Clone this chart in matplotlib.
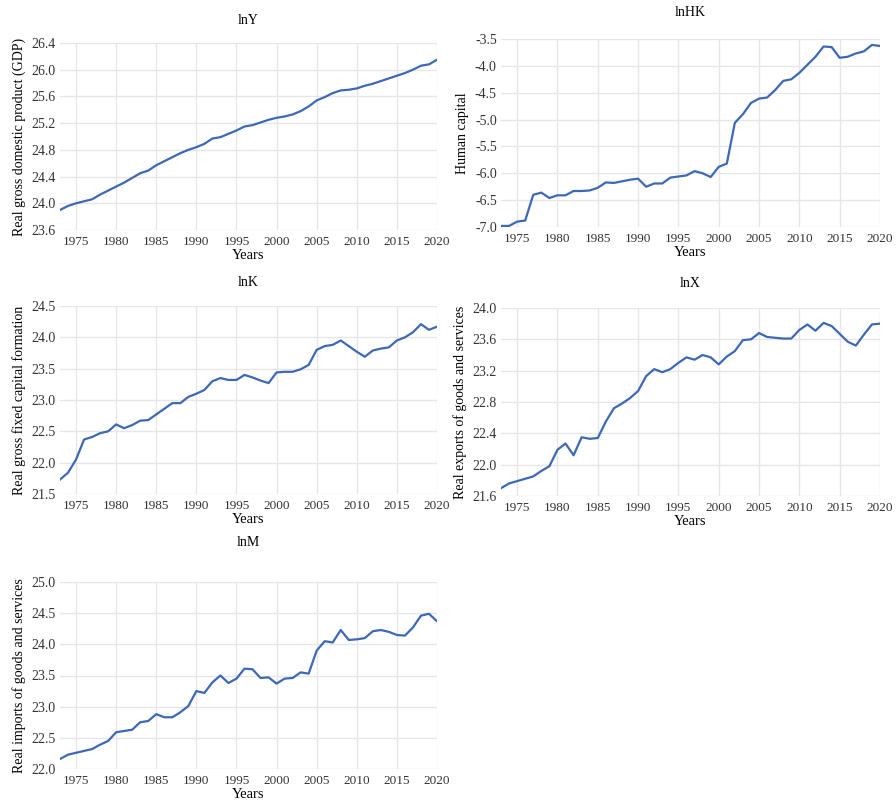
import matplotlib.pyplot as plt
import numpy as np

plt.rcParams['font.family'] = ['Liberation Serif', 'DejaVu Serif']
LINE_COLOR = '#3d68b5'
W, H = 896, 802

years = list(range(1973, 2021))

ln_y = [23.90, 23.96, 24.00, 24.03, 24.06, 24.13, 24.19, 24.25, 24.31, 24.38,
        24.45, 24.49, 24.57, 24.63, 24.69, 24.75, 24.80, 24.84, 24.89, 24.97,
        24.99, 25.04, 25.09, 25.15, 25.17, 25.21, 25.25, 25.28, 25.30, 25.33,
        25.38, 25.45, 25.54, 25.59, 25.65, 25.69, 25.70, 25.72, 25.76, 25.79,
        25.83, 25.87, 25.91, 25.95, 26.00, 26.06, 26.08, 26.15]

ln_hk = [-6.98, -6.98, -6.90, -6.88, -6.40, -6.36, -6.46, -6.41, -6.41, -6.33,
         -6.33, -6.32, -6.27, -6.17, -6.18, -6.15, -6.12, -6.10, -6.25, -6.19,
         -6.19, -6.08, -6.06, -6.04, -5.96, -6.00, -6.07, -5.88, -5.82, -5.06,
         -4.90, -4.69, -4.61, -4.59, -4.45, -4.28, -4.25, -4.13, -3.98, -3.83,
         -3.64, -3.65, -3.85, -3.83, -3.77, -3.73, -3.61, -3.63]

ln_k = [21.73, 21.84, 22.05, 22.37, 22.41, 22.47, 22.50, 22.61, 22.55, 22.60,
        22.67, 22.68, 22.77, 22.86, 22.95, 22.95, 23.05, 23.10, 23.16, 23.30,
        23.35, 23.32, 23.32, 23.40, 23.36, 23.31, 23.27, 23.44, 23.45, 23.45,
        23.49, 23.56, 23.80, 23.86, 23.88, 23.95, 23.86, 23.77, 23.69, 23.79,
        23.82, 23.84, 23.95, 24.00, 24.08, 24.21, 24.12, 24.17]

ln_x = [21.70, 21.76, 21.79, 21.82, 21.85, 21.92, 21.98, 22.19, 22.27, 22.12,
        22.35, 22.33, 22.34, 22.55, 22.72, 22.78, 22.85, 22.94, 23.13, 23.22,
        23.18, 23.22, 23.30, 23.37, 23.34, 23.40, 23.37, 23.28, 23.38, 23.45,
        23.59, 23.60, 23.68, 23.63, 23.62, 23.61, 23.61, 23.72, 23.79, 23.71,
        23.81, 23.77, 23.67, 23.57, 23.52, 23.66, 23.79, 23.80]

ln_m = [22.16, 22.23, 22.26, 22.29, 22.32, 22.39, 22.45, 22.59, 22.61, 22.63,
        22.75, 22.77, 22.88, 22.83, 22.83, 22.91, 23.01, 23.25, 23.22, 23.39,
        23.50, 23.38, 23.45, 23.61, 23.60, 23.46, 23.47, 23.37, 23.45, 23.46,
        23.55, 23.53, 23.90, 24.05, 24.03, 24.23, 24.07, 24.08, 24.10, 24.21,
        24.23, 24.20, 24.15, 24.14, 24.27, 24.46, 24.49, 24.37]

panels = [
    # series, title, ylabel, yticks, box (left, top, right, bottom) px, title y px
    (ln_y, 'lnY', 'Real gross domestic product (GDP)',
     np.arange(23.6, 26.41, 0.4), (60, 43, 437, 230), 20),
    (ln_hk, 'lnHK', 'Human capital',
     np.arange(-7.0, -3.49, 0.5), (501, 39, 880, 227), 13),
    (ln_k, 'lnK', 'Real gross fixed capital formation',
     np.arange(21.5, 24.51, 0.5), (60, 306, 437, 494), 283),
    (ln_x, 'lnX', 'Real exports of goods and services',
     np.arange(21.6, 24.01, 0.4), (501, 308, 880, 496), 284),
    (ln_m, 'lnM', 'Real imports of goods and services',
     np.arange(22.0, 25.01, 0.5), (60, 582, 437, 769), 543),
]

fig = plt.figure(figsize=(W / 100, H / 100), dpi=100)

for series, title, ylabel, yticks, box, title_y in panels:
    left, top, right, bottom = box
    ax = fig.add_axes([left / W, 1 - bottom / H, (right - left) / W, (bottom - top) / H])
    ax.plot(years, series, color=LINE_COLOR, linewidth=1.6)
    ax.set_xlim(1973, 2020)
    ax.set_ylim(yticks[0], yticks[-1])
    ax.set_xticks(range(1975, 2021, 5))
    ax.set_yticks(yticks)
    ax.set_yticklabels(['{:.1f}'.format(v) for v in yticks])
    ax.grid(True, color='#e6e6e6', linewidth=1)
    ax.set_axisbelow(True)
    for s in ax.spines.values():
        s.set_visible(False)
    ax.tick_params(axis='y', length=0, labelsize=10, colors='#333333', pad=3)
    ax.tick_params(axis='x', length=0, labelsize=9.5, colors='#333333', pad=4)
    ax.set_xlabel('Years', fontsize=10.5, labelpad=1)
    ax.set_ylabel(ylabel, fontsize=10, labelpad=4)
    fig.text((left + right) / 2 / W, 1 - title_y / H, title,
             ha='center', va='center', fontsize=10)

plt.savefig('out.png', dpi=100)
